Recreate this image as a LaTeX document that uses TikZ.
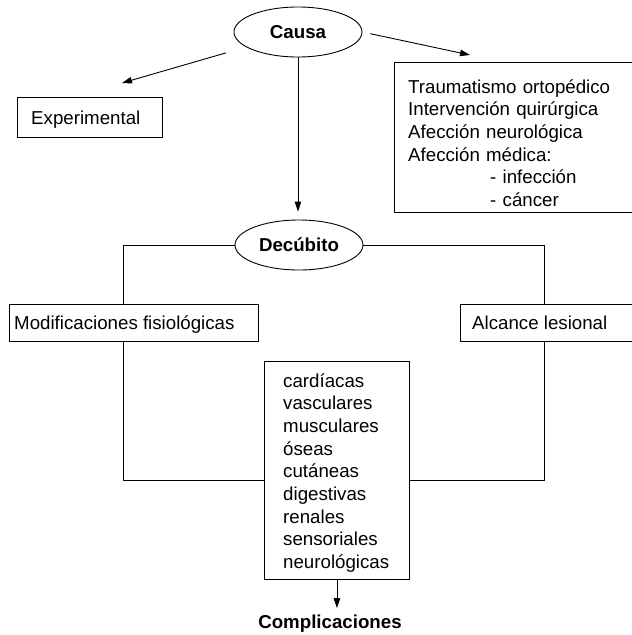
\documentclass[tikz,border=0pt]{standalone}
\usepackage{fontspec}
\setmainfont{Liberation Sans}
\usetikzlibrary{arrows.meta,shapes.geometric}
\begin{document}
\begin{tikzpicture}[x=1pt,y=-1pt,
  every node/.style={inner sep=0pt, font=\fontsize{18.7}{22.7}\selectfont},
  frame/.style={draw, line width=0.9pt, rectangle, anchor=north west},
  oval/.style={draw, ellipse, line width=0.9pt, minimum width=128pt,
    minimum height=50pt, font=\fontsize{18.7}{22.7}\selectfont\bfseries},
  txt/.style={anchor=base west, align=left},
  link/.style={line width=0.9pt},
  arr/.style={link, -{Triangle[length=10pt,width=6.5pt]}},
]
\useasboundingbox (0,0) rectangle (632,635);

% top level: cause and its kinds
\node[oval] (causa) at (298,32) {Causa};
\node[frame, minimum width=145pt, minimum height=40pt] (expbox) at (17,97) {};
\node[txt] (exptext) at (31,124) {Experimental};
\node[frame, minimum width=246pt, minimum height=150pt] (rbox) at (394,62) {};
\node[txt, text width=230pt] (rtext) at (408,93)
  {Traumatismo ortopédico\\Intervención quirúrgica\\Afección neurológica\\Afección médica:\\\hspace*{82pt}- infección\\\hspace*{82pt}- cáncer};

% middle level: bed rest and its two branches
\node[oval] (decubito) at (299,245) {Decúbito};
\node[frame, minimum width=249pt, minimum height=37pt] (modif) at (9,304) {};
\node[txt] (modiftext) at (14,329) {Modificaciones fisiológicas};
\node[frame, minimum width=180pt, minimum height=37pt] (alc) at (460,304) {};
\node[txt] (alctext) at (472,329) {Alcance lesional};

% bottom level: list of complications
\node[frame, minimum width=145pt, minimum height=218pt] (cbox) at (264,361) {};
\node[txt, text width=125pt] (ctext) at (283,387)
  {cardíacas\\vasculares\\musculares\\óseas\\cutáneas\\digestivas\\renales\\sensoriales\\neurológicas};
\node[font=\fontsize{18.7}{22.7}\selectfont\bfseries] (compl) at (330,624) {Complicaciones};

% free ends and corners of the connectors
\coordinate (lin) at (122,83);
\coordinate (rin) at (470,55);
\coordinate (jl) at (123,245);
\coordinate (jr) at (544,245);
\coordinate (bl) at (123,480);
\coordinate (br) at (544,480);

\draw[arr, shorten <=21pt] (causa) -- (lin);
\draw[arr, shorten <=8pt] (causa.east) -- (rin);
\draw[arr, shorten >=8pt] (causa.south) -- (causa.south |- decubito.north);
\draw[link] (decubito.west) -- (jl) -- (jl |- modif.north);
\draw[link] (decubito.east) -- (jr) -- (jr |- alc.north);
\draw[link] (jl |- modif.south) -- (bl) -- (bl -| cbox.west);
\draw[link] (jr |- alc.south) -- (br) -- (br -| cbox.east);
\draw[arr, shorten >=7pt] (cbox.south) -- (cbox.south |- compl.north);
\end{tikzpicture}
\end{document}
